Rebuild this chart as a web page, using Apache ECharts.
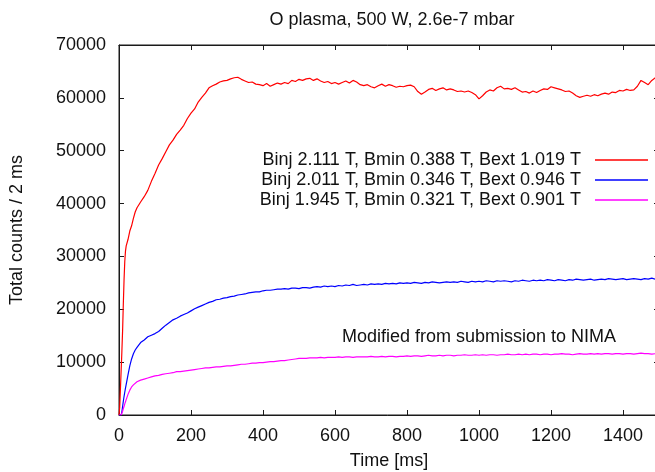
<!DOCTYPE html>
<html>
<head>
<meta charset="utf-8">
<script src="https://cdn.jsdelivr.net/npm/echarts@6/dist/echarts.min.js"></script>
<style>
  html, body { margin: 0; padding: 0; background: #fff; }
  #main { width: 655px; height: 472px; }
</style>
</head>
<body>
<div id="main"></div>
<script>
// time [ms] of each sample
var times = [
    0, 2, 4, 6, 8, 10, 12, 14, 16, 18,
    20, 25, 30, 35, 40, 45, 50, 60, 70, 80,
    90, 100, 110, 120, 130, 140, 150, 160, 170, 180,
    190, 200, 210, 220, 230, 240, 250, 260, 270, 280,
    290, 300, 310, 320, 330, 340, 350, 360, 370, 380,
    390, 400, 410, 420, 430, 440, 450, 460, 470, 480,
    490, 500, 510, 520, 530, 540, 550, 560, 570, 580,
    590, 600, 610, 620, 630, 640, 650, 660, 670, 680,
    690, 700, 710, 720, 730, 740, 750, 760, 770, 780,
    790, 800, 810, 820, 830, 840, 850, 860, 870, 880,
    890, 900, 910, 920, 930, 940, 950, 960, 970, 980,
    990, 1000, 1010, 1020, 1030, 1040, 1050, 1060, 1070, 1080,
    1090, 1100, 1110, 1120, 1130, 1140, 1150, 1160, 1170, 1180,
    1190, 1200, 1210, 1220, 1230, 1240, 1250, 1260, 1270, 1280,
    1290, 1300, 1310, 1320, 1330, 1340, 1350, 1360, 1370, 1380,
    1390, 1400, 1410, 1420, 1430, 1440, 1450, 1460, 1470, 1480,
    1490, 1500
];

// Binj 2.111 T
var countsHigh = [
    0, 1500, 5000, 8500, 12000, 16000, 21000, 25500, 29000, 31000,
    32000, 33200, 34800, 35800, 37200, 38400, 39200, 40300, 41300, 42500,
    44200, 45700, 47300, 48500, 49800, 51100, 52000, 53100, 53900, 54800,
    56100, 57100, 57900, 59200, 60100, 60900, 61900, 62300, 62600, 63000,
    63200, 63300, 63600, 63800, 63900, 63500, 63200, 62900, 63000, 62600,
    62500, 62300, 62700, 62200, 62500, 62800, 62600, 62900, 62700, 63300,
    63100, 63500, 63300, 63600, 63700, 63300, 63600, 63200, 62900, 63100,
    62700, 62900, 62600, 62900, 63200, 62800, 63300, 63000, 62500, 62300,
    62500, 62100, 61900, 62300, 62600, 62200, 62500, 62300, 62000, 62200,
    62100, 62300, 62400, 62100, 61200, 60700, 61100, 61600, 61800, 61400,
    61700, 61900, 61500, 61700, 61500, 61200, 61300, 61100, 61300, 61000,
    60600, 59800, 60400, 61100, 61500, 61300, 61900, 62200, 61700, 61800,
    61600, 61900, 61500, 61100, 61200, 60900, 61300, 61000, 61400, 61700,
    61600, 62100, 61900, 61700, 61500, 61200, 61300, 60900, 60400, 60100,
    60300, 60500, 60300, 60600, 60400, 60700, 60900, 60700, 61100, 61000,
    61400, 61300, 61600, 61400, 61500, 62200, 63300, 62900, 62500, 63300,
    63800, 63500
];

// Binj 2.011 T
var countsMid = [
    0, 0, 0, 0, 600, 1600, 2600, 3500, 4300, 5100,
    5800, 7600, 9300, 10600, 11600, 12300, 12800, 13700, 14200, 14800,
    15100, 15400, 15800, 16400, 17000, 17500, 18000, 18300, 18700, 19000,
    19300, 19700, 20100, 20400, 20700, 21000, 21300, 21500, 21800, 21900,
    22100, 22200, 22400, 22500, 22700, 22800, 22900, 23100, 23200, 23300,
    23300, 23500, 23600, 23600, 23700, 23800, 23800, 23900, 23800, 24000,
    24000, 23900, 24100, 24100, 24000, 24200, 24300, 24200, 24400, 24300,
    24400, 24300, 24500, 24400, 24600, 24500, 24700, 24500, 24600, 24700,
    24600, 24800, 24700, 24800, 24700, 24900, 24800, 24900, 24800, 25000,
    24900, 25000, 24900, 25100, 25000, 24900, 25100, 25000, 25200, 25100,
    25000, 25100, 25200, 25100, 25200, 25100, 25300, 25200, 25100, 25300,
    25200, 25300, 25200, 25400, 25300, 25200, 25400, 25300, 25400, 25300,
    25200, 25400, 25300, 25500, 25400, 25300, 25500, 25400, 25500, 25400,
    25600, 25500, 25400, 25600, 25500, 25400, 25600, 25500, 25700, 25600,
    25500, 25600, 25700, 25500, 25600, 25700, 25600, 25800, 25700, 25600,
    25700, 25800, 25600, 25700, 25800, 25700, 25600, 25800, 25700, 25900,
    25700, 25600
];

// Binj 1.945 T
var countsLow = [
    0, 0, 0, 0, 300, 700, 1200, 1600, 2100, 2500,
    2900, 3900, 4700, 5300, 5700, 6000, 6300, 6600, 6800, 7000,
    7200, 7400, 7500, 7700, 7800, 7900, 8000, 8200, 8200, 8300,
    8400, 8500, 8600, 8700, 8800, 8900, 8900, 9000, 9100, 9100,
    9200, 9300, 9300, 9400, 9500, 9600, 9600, 9700, 9800, 9800,
    9900, 9900, 10000, 10100, 10100, 10200, 10300, 10300, 10400, 10500,
    10600, 10700, 10700, 10700, 10800, 10800, 10800, 10900, 10800, 10900,
    10900, 10900, 11000, 10900, 11000, 11000, 10900, 11000, 11000, 11000,
    11000, 11100, 11000, 11000, 11100, 11000, 11100, 11100, 11000, 11100,
    11100, 11200, 11100, 11200, 11200, 11100, 11200, 11300, 11200, 11200,
    11300, 11200, 11300, 11300, 11200, 11300, 11300, 11400, 11300, 11300,
    11400, 11300, 11400, 11300, 11400, 11400, 11300, 11400, 11400, 11500,
    11400, 11400, 11500, 11400, 11500, 11400, 11500, 11500, 11400, 11500,
    11500, 11400, 11500, 11500, 11600, 11500, 11500, 11400, 11500, 11600,
    11500, 11500, 11600, 11500, 11600, 11500, 11600, 11600, 11500, 11600,
    11600, 11500, 11600, 11600, 11500, 11600, 11700, 11600, 11600, 11500,
    11600, 11600
];

var seriesNames = [
    'Binj 2.111 T, Bmin 0.388 T, Bext 1.019 T',
    'Binj 2.011 T, Bmin 0.346 T, Bext 0.946 T',
    'Binj 1.945 T, Bmin 0.321 T, Bext 0.901 T'
];
var seriesColors = ['#ff0000', '#0000ff', '#ff00ff'];
var seriesValues = [countsHigh, countsMid, countsLow];

var FONT = 'Liberation Sans';

function pairs(values) {
    return times.map(function (t, i) { return [t, values[i]]; });
}

function plain(v) { return String(v); }

// frame axes: gnuplot style, ticks inside and mirrored
function frameAxis(extra) {
    var ax = {
        show: true,
        axisLine: { show: true, onZero: false, lineStyle: { color: '#1a1a1a', width: 1 } },
        axisTick: { show: true, inside: true, length: 5, lineStyle: { color: '#1a1a1a' } },
        splitLine: { show: false }
    };
    for (var k in extra) ax[k] = extra[k];
    return ax;
}

var chart = echarts.init(document.getElementById('main'));
chart.setOption({
    animation: false,
    backgroundColor: '#fff',
    textStyle: { fontFamily: FONT },
    title: {
        text: 'O plasma, 500 W, 2.6e-7 mbar',
        left: 387,
        top: 6,
        textAlign: 'center',
        textStyle: { fontFamily: FONT, fontSize: 18, fontWeight: 'normal', color: '#111' }
    },
    grid: {
        left: 119, top: 45, width: 540, height: 370,
        outerBoundsMode: 'none',
        containLabel: false,
        show: true, borderColor: '#1a1a1a', borderWidth: 1, backgroundColor: 'transparent'
    },
    legend: {
        data: seriesNames,
        orient: 'vertical',
        align: 'right',
        right: 7,
        top: 150,
        padding: 0,
        itemGap: 0,
        itemWidth: 53,
        itemHeight: 1.5,
        icon: 'rect',
        textStyle: { fontFamily: FONT, fontSize: 18, color: '#111', lineHeight: 20, padding: [0, 9, 0, 0] }
    },
    xAxis: [
        frameAxis({
            type: 'value', min: 0, max: 1500, interval: 200, position: 'bottom',
            name: 'Time [ms]', nameLocation: 'middle', nameGap: 37,
            nameTextStyle: { fontFamily: FONT, fontSize: 18, color: '#111' },
            axisLabel: { margin: 12, fontFamily: FONT, fontSize: 18, color: '#111', showMaxLabel: false, formatter: plain }
        }),
        frameAxis({
            type: 'value', min: 0, max: 1500, interval: 200, position: 'top',
            axisLabel: { show: false }
        })
    ],
    yAxis: [
        frameAxis({
            type: 'value', min: 0, max: 70000, interval: 10000, position: 'left',
            name: 'Total counts / 2 ms', nameLocation: 'middle', nameGap: 93,
            nameTextStyle: { fontFamily: FONT, fontSize: 18, color: '#111' },
            axisLabel: { margin: 13, fontFamily: FONT, fontSize: 18, color: '#111', formatter: plain }
        }),
        frameAxis({
            type: 'value', min: 0, max: 70000, interval: 10000, position: 'right',
            axisLabel: { show: false }
        })
    ],
    graphic: [{
        type: 'text',
        left: 342,
        top: 328,
        style: {
            text: 'Modified from submission to NIMA',
            fontFamily: FONT, fontSize: 18, fill: '#111'
        }
    }],
    series: seriesNames.map(function (name, i) {
        return {
            name: name,
            type: 'line',
            xAxisIndex: 0,
            yAxisIndex: 0,
            showSymbol: false,
            symbol: 'none',
            color: seriesColors[i],
            lineStyle: { width: 1.2, color: seriesColors[i] },
            data: pairs(seriesValues[i])
        };
    })
});
</script>
</body>
</html>
